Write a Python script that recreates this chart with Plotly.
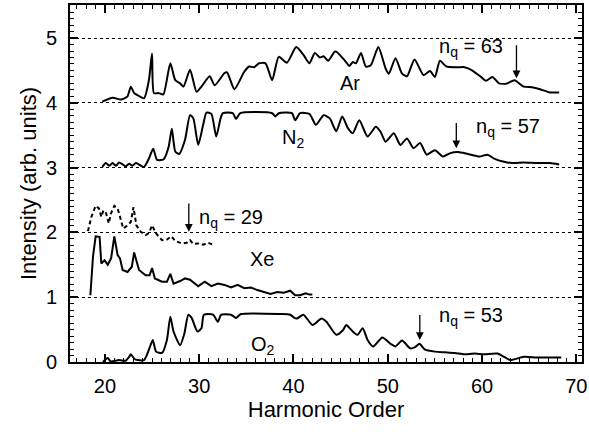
import plotly.graph_objects as go

# ---------------- data ----------------
ar_x = [19.72, 20.83, 21.7, 22.4, 22.75, 23.1, 23.45, 24.15, 24.67, 25.0, 25.2, 25.71, 26.2, 26.94,
        27.46, 27.98, 28.33, 29.03, 29.72, 30.24, 31.12, 31.64, 32.69, 32.96, 33.74, 34.78, 35.3,
        35.83, 36.35, 37.04, 37.74, 38.44, 39.31, 40.29, 41.06, 41.69, 42.27, 42.8, 43.2, 43.67,
        44.37, 44.54, 45.41, 45.93, 46.29, 46.63, 47.16, 47.68, 48.2, 49.0, 49.77, 50.12, 50.82,
        51.52, 52.04, 52.84, 53.78, 54.48, 55.0, 55.53, 56.23, 57.44, 58.14, 58.84, 59.89, 60.41,
        61.1, 61.8, 62.67, 63.44, 64.42, 65.3, 66.16, 67.2, 68.18]
ar_y = [4.02, 4.08, 4.05, 4.10, 4.25, 4.15, 4.12, 4.07, 4.35, 4.76, 4.15, 4.15, 4.13, 4.61,
        4.35, 4.30, 4.25, 4.51, 4.17, 4.25, 4.41, 4.27, 4.46, 4.47, 4.21, 4.48, 4.56,
        4.55, 4.61, 4.61, 4.35, 4.71, 4.62, 4.86, 4.74, 4.61, 4.77, 4.70, 4.72, 4.65,
        4.79, 4.79, 4.66, 4.57, 4.63, 4.61, 4.77, 4.56, 4.58, 4.86, 4.53, 4.45, 4.69,
        4.45, 4.41, 4.67, 4.43, 4.49, 4.40, 4.65, 4.56, 4.55, 4.55, 4.51, 4.40, 4.34,
        4.40, 4.30, 4.30, 4.35, 4.25, 4.24, 4.21, 4.16, 4.16]

n2_x = [19.72, 20.1, 20.48, 20.8, 21.18, 21.5, 21.88, 22.2, 22.58, 22.9, 23.28, 23.7, 24.15, 24.67,
        25.12, 25.54, 26.24, 26.76, 27.1, 27.46, 27.88, 28.5, 29.03, 29.38, 29.9, 30.42, 30.77,
        31.29, 31.81, 32.27, 32.51, 33.56, 33.9, 34.36, 37.74, 38.09, 38.44, 39.84, 40.18, 40.7,
        41.69, 42.38, 43.2, 43.85, 44.54, 45.17, 45.77, 46.29, 46.98, 47.86, 48.73, 49.25,
        49.77, 50.64, 51.34, 52.04, 52.73, 53.43, 54.13, 55.0, 55.87, 56.57, 57.44, 58.49,
        59.71, 60.58, 61.28, 62.33, 63.2, 64.42, 65.81, 67.2, 68.18]
n2_y = [3.01, 3.07, 3.03, 3.07, 3.03, 3.08, 3.05, 3.02, 3.06, 3.03, 3.07, 3.04, 3.01, 3.14,
        3.29, 3.12, 3.13, 3.32, 3.60, 3.25, 3.21, 3.43, 3.81, 3.76, 3.35, 3.66, 3.85,
        3.83, 3.48, 3.76, 3.84, 3.84, 3.75, 3.84, 3.84, 3.79, 3.84, 3.84, 3.73, 3.84,
        3.83, 3.66, 3.81, 3.76, 3.56, 3.79, 3.61, 3.53, 3.73, 3.48, 3.63, 3.55,
        3.40, 3.53, 3.35, 3.45, 3.30, 3.38, 3.20, 3.27, 3.17, 3.22, 3.24, 3.21,
        3.17, 3.20, 3.14, 3.09, 3.07, 3.08, 3.07, 3.07, 3.05]

xe_x = [18.46, 18.74, 19.02, 19.44, 19.62, 19.96, 20.3, 20.66, 21.0, 21.35, 21.6, 21.88, 22.4,
        22.86, 23.1, 23.34, 23.62, 24.32, 24.74, 25.01, 25.3, 26.06, 26.58, 26.94, 27.28, 27.98,
        28.5, 29.03, 29.9, 30.6, 31.29, 31.99, 32.69, 33.38, 34.08, 34.78, 35.47, 36.17, 36.88,
        37.57, 38.27, 38.97, 39.66, 40.18, 40.7, 41.3, 41.7, 42.0]
xe_y = [1.03, 1.63, 1.94, 1.93, 1.52, 1.57, 1.50, 1.60, 1.94, 1.65, 1.60, 1.42, 1.39,
        1.47, 1.69, 1.55, 1.42, 1.34, 1.34, 1.45, 1.29, 1.24, 1.24, 1.36, 1.21, 1.25,
        1.29, 1.27, 1.17, 1.24, 1.17, 1.21, 1.19, 1.15, 1.19, 1.14, 1.15, 1.11, 1.08,
        1.05, 1.08, 1.07, 1.10, 1.03, 1.03, 1.06, 1.04, 1.04]

xe2_x = [18.2, 18.57, 19.02, 19.37, 19.62, 19.85, 20.12, 20.41, 20.66, 21.0, 21.35, 21.6, 21.95,
         22.4, 22.75, 23.03, 23.34, 23.8, 24.32, 24.67, 25.01, 25.4, 26.06, 26.58, 27.04, 27.46,
         28.15, 28.67, 29.03, 29.38, 29.9, 30.42, 30.94, 31.47]
xe2_y = [2.02, 2.24, 2.41, 2.37, 2.24, 2.34, 2.30, 2.14, 2.30, 2.41, 2.37, 2.24, 2.06,
         2.11, 2.16, 2.39, 2.11, 2.01, 1.96, 1.99, 2.11, 1.99, 1.88, 1.89, 1.94, 1.87,
         1.83, 1.84, 1.88, 1.82, 1.83, 1.81, 1.84, 1.81]

o2_x = [19.8, 20.3, 20.6, 21.5, 22.2, 22.58, 22.75, 23.2, 24.15, 24.67, 25.08, 25.43, 26.06,
        26.58, 26.94, 27.28, 27.98, 28.43, 28.85, 29.2, 29.82, 30.24, 30.5, 31.47, 31.99, 32.33,
        33.38, 33.9, 34.43, 38.6, 39.66, 40.01, 40.36, 41.06, 42.03, 42.97, 43.5, 44.54, 45.24,
        45.59, 46.29, 46.8, 47.34, 47.86, 48.45, 49.43, 50.3, 50.82, 51.52, 52.39, 52.9, 53.36,
        53.96, 55.0, 56.05, 57.1, 58.14, 59.19, 60.23, 61.63, 62.33, 63.0, 64.42, 65.81, 67.2, 68.4]
o2_y = [0.00, 0.06, 0.01, 0.03, 0.02, 0.08, 0.12, 0.04, 0.03, 0.19, 0.34, 0.16, 0.14,
        0.34, 0.70, 0.47, 0.26, 0.44, 0.73, 0.68, 0.47, 0.52, 0.73, 0.73, 0.62, 0.73,
        0.73, 0.68, 0.74, 0.74, 0.73, 0.69, 0.67, 0.73, 0.57, 0.67, 0.62, 0.42, 0.49,
        0.57, 0.47, 0.42, 0.52, 0.34, 0.24, 0.38, 0.28, 0.24, 0.33, 0.21, 0.23, 0.28,
        0.19, 0.16, 0.15, 0.14, 0.12, 0.13, 0.12, 0.13, 0.08, 0.03, 0.08, 0.07, 0.07, 0.07]

# arrows: (x, y_tail, y_tip)
arrow_x = [63.65, 57.27, 28.9, 53.4]
arrow_tail = [4.91, 3.71, 2.47, 0.75]
arrow_tip = [4.38, 3.30, 2.01, 0.34]

# labels
label_text = ["n<sub>q</sub> = 63", "Ar", "N<sub>2</sub>", "n<sub>q</sub> = 57",
              "n<sub>q</sub> = 29", "Xe", "O<sub>2</sub>", "n<sub>q</sub> = 53"]
label_x = [58.8, 46.0, 39.9, 62.7, 33.4, 36.7, 36.8, 58.8]
label_y = [4.86, 4.31, 3.45, 3.62, 2.21, 1.59, 0.26, 0.70]

# ---------------- figure ----------------
FONT = "Liberation Sans, Arial"
fig = go.Figure()
smooth = dict(color="black", width=2, shape="spline", smoothing=0.6)
fig.add_trace(go.Scatter(x=ar_x, y=ar_y, mode="lines", line=smooth))
fig.add_trace(go.Scatter(x=n2_x, y=n2_y, mode="lines", line=smooth))
fig.add_trace(go.Scatter(x=xe_x, y=xe_y, mode="lines", line=dict(color="black", width=2)))
fig.add_trace(go.Scatter(x=xe2_x, y=xe2_y, mode="lines",
                         line=dict(color="black", width=2, dash="4px,3px")))
fig.add_trace(go.Scatter(x=o2_x, y=o2_y, mode="lines", line=smooth))

for xa, yt, yp in zip(arrow_x, arrow_tail, arrow_tip):
    fig.add_annotation(x=xa, y=yp, ax=xa, ay=yt, xref="x", yref="y", axref="x", ayref="y",
                       text="", showarrow=True, arrowhead=2, arrowsize=1.2, arrowwidth=1.3,
                       arrowcolor="black")

for t, xl, yl in zip(label_text, label_x, label_y):
    fig.add_annotation(x=xl, y=yl, text=t, showarrow=False,
                       font=dict(size=20, color="black", family=FONT))

axis_common = dict(showline=True, linecolor="black", linewidth=2, mirror="ticks",
                   ticks="inside", tickcolor="black", tickwidth=1.5, ticklen=8,
                   zeroline=False, ticklabeloverflow="allow",
                   tickfont=dict(size=20, color="black", family=FONT))

fig.update_xaxes(range=[16.3, 70.6], dtick=10, tick0=0, showgrid=False,
                 minor=dict(dtick=1, ticks="inside", ticklen=4, tickcolor="black", tickwidth=1.2),
                 title_text="Harmonic Order", title_standoff=6, ticklabelstandoff=5,
                 title_font=dict(size=22, color="black", family=FONT),
                 **axis_common)
fig.update_yaxes(range=[0, 5.51], dtick=1, tick0=0, showgrid=True, gridcolor="black",
                 griddash="dot", gridwidth=1,
                 minor=dict(dtick=0.1, ticks="inside", ticklen=4, tickcolor="black", tickwidth=1.2,
                            showgrid=False),
                 title_text="Intensity (arb. units)", title_standoff=3, ticklabelstandoff=7,
                 title_font=dict(size=22, color="black", family=FONT),
                 **axis_common)

fig.update_layout(width=589, height=432, margin=dict(l=70, r=2, t=5, b=70),
                  plot_bgcolor="white", paper_bgcolor="white", showlegend=False,
                  font=dict(family=FONT, color="black"))

fig.write_html("out.html")
